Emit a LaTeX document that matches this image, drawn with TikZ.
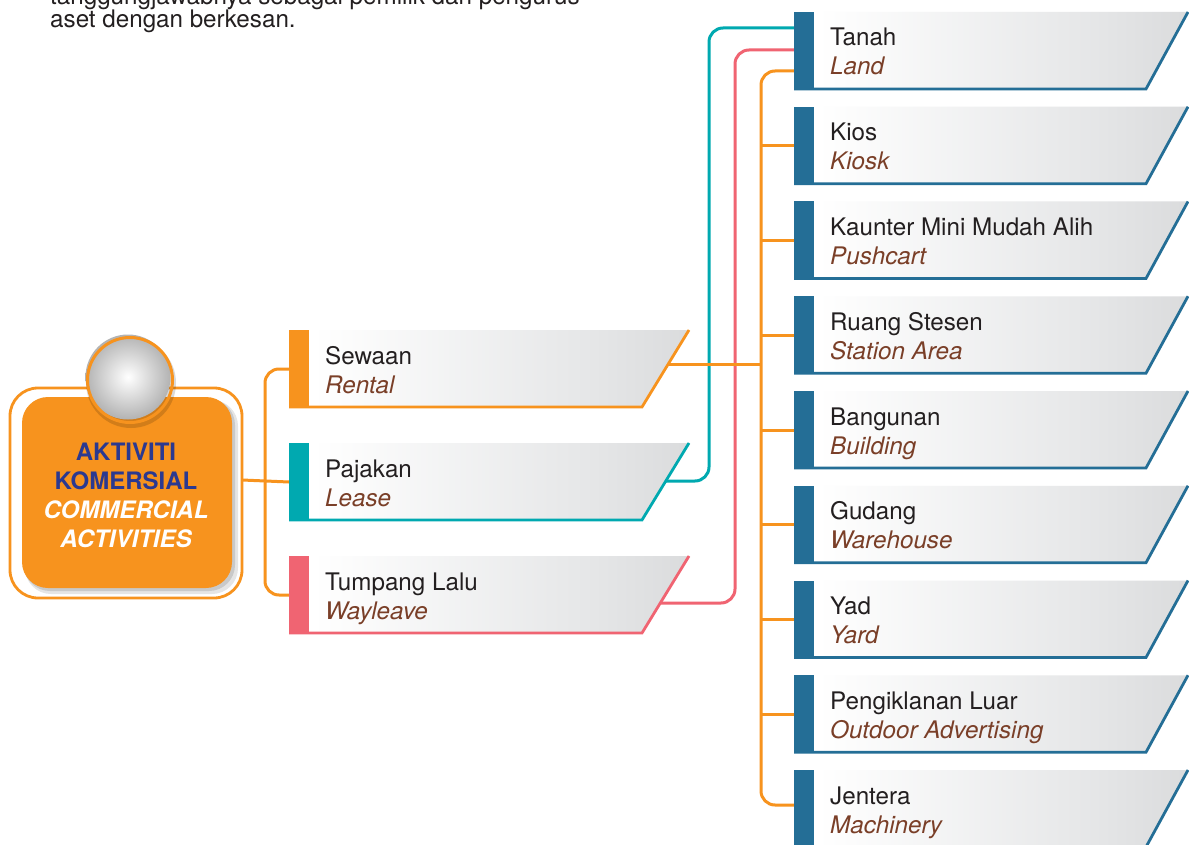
\documentclass[tikz,border=0pt]{standalone}
\usepackage{fontspec}
\setmainfont{TeX Gyre Heros}
\usetikzlibrary{calc}
\definecolor{corange}{HTML}{F7931E}
\definecolor{cteal}{HTML}{00A9B0}
\definecolor{cpink}{HTML}{F06472}
\definecolor{cblue}{HTML}{246E96}
\definecolor{cbrown}{HTML}{7A3F28}
\definecolor{ctext}{HTML}{231F20}
\definecolor{cnavy}{HTML}{2B3990}
\definecolor{gmid}{HTML}{E6E7E8}
\definecolor{gend}{HTML}{C4C5C7}
\pgfdeclarehorizontalshading{boxgrad}{100bp}{color(0bp)=(white); color(28bp)=(white); color(62bp)=(gmid); color(100bp)=(gend)}
\pgfdeclarelayer{background}
\pgfsetlayers{background,main}
\tikzset{
  conn/.style={line width=3pt, rounded corners=14pt},
  txtA/.style={anchor=base west, inner sep=0pt, font=\fontsize{24.2}{28}\selectfont, text=ctext},
  txtB/.style={txtA, font=\fontsize{24.2}{28}\selectfont\itshape, text=cbrown},
}
% name, x, top, color, width, slant, line1, line2
\newcommand{\itembox}[8]{%
  \shade[shading=boxgrad] (#2,#3) -- (#2+#5,#3) -- (#2+#5-#6,#3+77) -- (#2,#3+77) -- cycle;
  \draw[#4, line width=2.8pt] (#2,#3+77) -- (#2+#5-#6,#3+77) -- (#2+#5,#3);
  \fill[#4] (#2,#3) rectangle (#2+20,#3+77);
  \node[txtA] (#1) at (#2+36,#3+34) {#7};
  \node[txtB] (#1-en) at (#2+36,#3+63) {#8};
  \coordinate (#1-l) at (#2,#3+39);
  \coordinate (#1-j) at (761,#3+39);
}
\begin{document}
\begin{tikzpicture}[x=1pt,y=-1pt]
\useasboundingbox (0,0) rectangle (1189,845);
\clip (0,0) rectangle (1189,845);

% paragraph text
\node[txtA] (para1) at (50,4.5) {tanggungjawabnya sebagai pemilik dan pengurus};
\node[txtA] (para2) at (50,28) {aset dengan berkesan.};

% centre box
\draw[corange, line width=2.8pt, fill=white, rounded corners=28pt] (10,388) rectangle (242,598);
\fill[black, opacity=0.10, rounded corners=26pt] (25,400) rectangle (238,594);
\fill[black, opacity=0.12, rounded corners=26pt] (24,399) rectangle (235,591);
\fill[corange, rounded corners=26pt] (22,397) rectangle (232,588);
\fill[black, opacity=0.15] (131,383) circle (45);
\shade[inner color=white, outer color=gray!60] (128,377) circle (42.5);
\draw[corange, line width=3pt] (130,380) circle (42.5);
\node[align=center, inner sep=0pt, font=\fontsize{24}{29}\selectfont\bfseries] (cbox) at (126,495)
  {\textcolor{cnavy}{AKTIVITI}\\ \textcolor{cnavy}{KOMERSIAL}\\ \textcolor{white}{\itshape COMMERCIAL}\\ \textcolor{white}{\itshape ACTIVITIES}};
\coordinate (cbox-r) at (242,480);
\coordinate (lsplit) at (265,480);

% middle items
\itembox{sewaan}{289}{330}{corange}{400}{47}{Sewaan}{Rental}
\itembox{pajakan}{289}{443}{cteal}{400}{47}{Pajakan}{Lease}
\itembox{tumpang}{289}{556}{cpink}{400}{47}{Tumpang Lalu}{Wayleave}
\coordinate (sewaan-c) at (640,364);
\coordinate (pajakan-c) at (640,481);
\coordinate (tumpang-c) at (640,603);

% right items
\itembox{tanah}{794}{12}{cblue}{394}{42}{Tanah}{Land}
\itembox{kios}{794}{106.75}{cblue}{394}{42}{Kios}{Kiosk}
\itembox{kaunter}{794}{201.5}{cblue}{394}{42}{Kaunter Mini Mudah Alih}{Pushcart}
\itembox{ruang}{794}{296.25}{cblue}{394}{42}{Ruang Stesen}{Station Area}
\itembox{bangunan}{794}{391}{cblue}{394}{42}{Bangunan}{Building}
\itembox{gudang}{794}{485.75}{cblue}{394}{42}{Gudang}{Warehouse}
\itembox{yad}{794}{580.5}{cblue}{394}{42}{Yad}{Yard}
\itembox{iklan}{794}{675.25}{cblue}{394}{42}{Pengiklanan Luar}{Outdoor Advertising}
\itembox{jentera}{794}{770}{cblue}{394}{42}{Jentera}{Machinery}
\coordinate (tanah-t1) at (794,28);
\coordinate (tanah-t2) at (794,50);
\coordinate (tanah-t3) at (794,71);
\coordinate (jentera-b) at (794,805);
\coordinate (tealbend) at (709,28);
\coordinate (pinkbend) at (735,50);
\coordinate (trunkbot) at (761,805);
\coordinate (trunk-s) at (761,364);

\begin{pgfonlayer}{background}
  \fill[white] (0,0) rectangle (1189,845);
  \draw[conn, corange] (cbox-r) -- (pajakan-l);
  \draw[conn, corange] (sewaan-l) -| (lsplit) |- (tumpang-l);
  \draw[conn, cteal] (pajakan-c) -| (tealbend) -- (tanah-t1);
  \draw[conn, cpink] (tumpang-c) -| (pinkbend) -- (tanah-t2);
  \draw[conn, corange] (sewaan-c) -- (trunk-s);
  \draw[conn, corange] (tanah-t3) -| (trunkbot) -- (jentera-b);
  \foreach \n in {kios,kaunter,ruang,bangunan,gudang,yad,iklan}
    \draw[line width=3pt, corange] (\n-j) -- (\n-l);
\end{pgfonlayer}
\end{tikzpicture}
\end{document}
